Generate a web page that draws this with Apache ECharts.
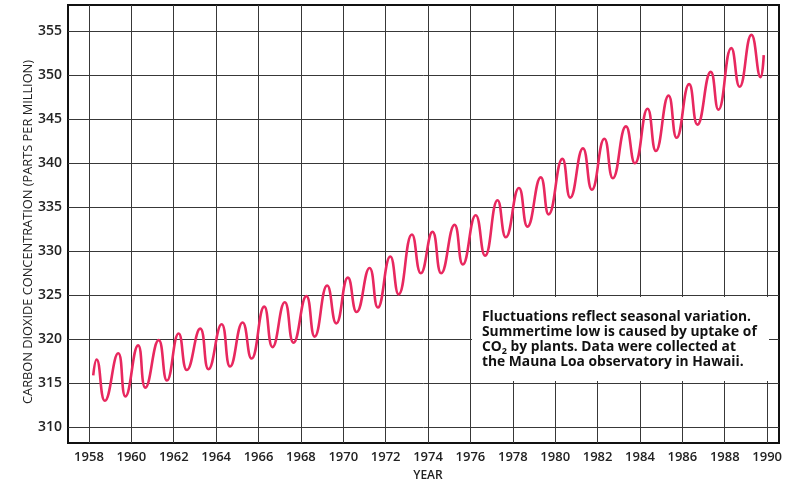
<!DOCTYPE html>
<html>
<head>
<meta charset="utf-8">
<script src="https://cdn.jsdelivr.net/npm/echarts@6/dist/echarts.min.js"></script>
<style>
html,body{margin:0;padding:0;background:#fff;}
#chart{width:785px;height:481px;}
</style>
</head>
<body>
<div id="chart"></div>
<script>
// Year positions of the readings (start, then each seasonal peak and trough, then end)
var years = [1958.2, 1958.36, 1958.75, 1959.38, 1959.72, 1960.32, 1960.66, 1961.29, 1961.68,
  1962.23, 1962.62, 1963.25, 1963.64, 1964.26, 1964.66, 1965.25, 1965.67, 1966.27, 1966.66,
  1967.24, 1967.65, 1968.26, 1968.65, 1969.24, 1969.67, 1970.22, 1970.63, 1971.24, 1971.63,
  1972.22, 1972.61, 1973.24, 1973.66, 1974.21, 1974.62, 1975.25, 1975.64, 1976.25, 1976.69,
  1977.28, 1977.67, 1978.29, 1978.69, 1979.32, 1979.69, 1980.34, 1980.71, 1981.31, 1981.73,
  1982.32, 1982.72, 1983.34, 1983.76, 1984.36, 1984.75, 1985.35, 1985.73, 1986.32, 1986.71,
  1987.34, 1987.70, 1988.31, 1988.70, 1989.26, 1989.69, 1989.84];
// CO2 concentration (ppm) at those positions
var co2 = [315.9, 317.7, 313.0, 318.4, 313.5, 319.3, 314.5, 319.9, 315.3,
  320.65, 316.5, 321.2, 316.6, 321.7, 316.9, 321.9, 317.8, 323.7, 319.1,
  324.2, 319.6, 324.9, 320.3, 326.1, 321.8, 327.0, 323.1, 328.1, 323.6,
  329.4, 325.1, 331.9, 327.5, 332.2, 327.5, 333.0, 328.5, 334.1, 329.5,
  335.8, 331.6, 337.2, 332.8, 338.4, 334.2, 340.5, 336.1, 341.7, 337.0,
  342.8, 338.3, 344.2, 340.0, 346.2, 341.4, 347.7, 342.9, 349.0, 344.4,
  350.4, 346.1, 353.1, 348.7, 354.6, 349.8, 352.3];
// Tick labels
var xTicks = [1958, 1960, 1962, 1964, 1966, 1968, 1970, 1972, 1974, 1976, 1978, 1980, 1982, 1984, 1986, 1988, 1990];
var yTicks = [310, 315, 320, 325, 330, 335, 340, 345, 350, 355];
var xTitle = 'YEAR';
var yTitle = 'CARBON DIOXIDE CONCENTRATION (PARTS PER MILLION)';
var noteLines = ['Fluctuations reflect seasonal variation.',
  'Summertime low is caused by uptake of',
  '{n|CO}{s|2}{n| by plants. Data were collected at}',
  'the Mauna Loa observatory in Hawaii.'];

var points = years.map(function (y, i) { return [y, co2[i]]; });
var gridColor = '#383838';
var chart = echarts.init(document.getElementById('chart'), null, {renderer: 'canvas'});
chart.setOption({
  backgroundColor: '#fff',
  animation: false,
  grid: {left: 68, top: 5, right: 3, bottom: 38, show: true, borderColor: '#111', borderWidth: 2},
  xAxis: {
    type: 'value', min: 1957.01, max: 1990.56,
    axisLine: {show: false},
    axisTick: {show: false, customValues: xTicks},
    axisLabel: {customValues: xTicks, color: '#222', fontSize: 13, margin: 8,
      fontFamily: 'Open Sans', fontWeight: 600,
      formatter: function (v) { return String(Math.round(v)); }},
    splitLine: {show: true, lineStyle: {color: gridColor, width: 1}}
  },
  yAxis: {
    type: 'value', min: 308.2, max: 358,
    axisLine: {show: false},
    axisTick: {show: false, customValues: yTicks},
    axisLabel: {customValues: yTicks, color: '#222', fontSize: 14, margin: 6,
      fontFamily: 'Open Sans', fontWeight: 600,
      formatter: function (v) { return String(Math.round(v)); }},
    splitLine: {show: true, lineStyle: {color: gridColor, width: 1}}
  },
  series: [{
    type: 'line', data: points, showSymbol: false, smooth: 0.5,
    lineStyle: {color: '#e8285f', width: 2.6}, z: 5
  }],
  graphic: [
    {type: 'text', position: [428, 476], style: {text: xTitle, fill: '#222',
      font: '600 12px "Open Sans"', textAlign: 'center', textVerticalAlign: 'middle'}},
    {type: 'text', rotation: Math.PI / 2, position: [28, 232], style: {text: yTitle, fill: '#222',
      font: '12.8px "Open Sans"', textAlign: 'center', textVerticalAlign: 'middle'}},
    {type: 'rect', shape: {x: 472, y: 297, width: 297, height: 84}, style: {fill: '#fff'}, z: 10},
    {type: 'text', position: [482, 310], z: 11, style: {
      text: noteLines.map(function (l, i) { return i === 2 ? l : '{n|' + l + '}'; }).join('\n'),
      rich: {
        n: {font: 'bold 13.8px "Open Sans"', fill: '#111', lineHeight: 15},
        s: {font: 'bold 9px "Open Sans"', fill: '#111', lineHeight: 15, padding: [7, 0, 0, 0]}
      }
    }}
  ]
});
</script>
</body>
</html>
